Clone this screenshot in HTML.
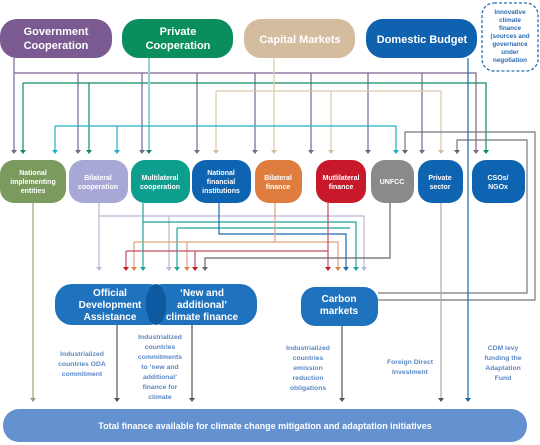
<!DOCTYPE html>
<html><head><meta charset="utf-8"><style>
html,body{margin:0;padding:0;background:#fff;}
svg{display:block;font-family:"Liberation Sans",sans-serif;font-weight:bold;}
</style></head><body>
<svg width="540" height="445" viewBox="0 0 540 445" xmlns="http://www.w3.org/2000/svg">
<g fill="none" stroke-width="1.2">
<g stroke="#7a6590">
<path d="M14,58 V150"/><path d="M14,73 H476 V150"/>
<path d="M78,73 V150"/><path d="M142,73 V150"/><path d="M197,73 V150"/><path d="M255,73 V150"/><path d="M311,73 V150"/><path d="M368,73 V150"/><path d="M422,73 V150"/>
</g>
<g stroke="#128a5e"><path d="M23,83 H486 V150"/><path d="M23,83 V150"/><path d="M89,83 V150"/></g>
<g stroke="#8fd3d8" stroke-width="2"><path d="M149,58 V150"/></g>
<g stroke="#d9c7ad"><path d="M274,58 V150"/><path d="M216,91 H441 V150"/><path d="M216,91 V150"/><path d="M331,91 V150"/></g>
<g stroke="#22aecb"><path d="M55,126 H396 V150"/><path d="M55,126 V150"/><path d="M117,126 V150"/></g>
<g stroke="#777"><path d="M405,150 V132 H535 V300 H378"/><path d="M457,150 V140 H527 V293 H378"/></g>
<g stroke="#1a6aa8"><path d="M468,58 V398"/></g>
<g stroke="#b7b7d3"><path d="M99,203 V267"/><path d="M99,216 H364 V267"/><path d="M169,216 V267"/></g>
<g stroke="#1aa598"><path d="M143,203 V267"/><path d="M143,222 H356 V267"/><path d="M177,228 H350"/><path d="M177,228 V267"/></g>
<g stroke="#1c6ab0"><path d="M219,203 V234 H346 V267"/></g>
<g stroke="#e0a27c"><path d="M275,203 V242"/><path d="M134,242 H338 V267"/><path d="M134,242 V267"/><path d="M187,242 V267"/></g>
<g stroke="#c05060"><path d="M328,203 V267"/><path d="M126,251 H328"/><path d="M126,251 V267"/><path d="M195,251 V267"/></g>
<g stroke="#666"><path d="M390,203 V258 H205 V267"/></g>
<path d="M33,203 V398" stroke="#8fa47a"/>
<path d="M117,325 V398" stroke="#555"/><path d="M192,325 V398" stroke="#555"/>
<path d="M342,326 V398" stroke="#555"/>
<path d="M441,203 V398" stroke="#aaa"/>
</g>
<g>
<g fill="#7a6590"><path d="M11,150h6l-3,4z"/><path d="M75,150h6l-3,4z"/><path d="M139,150h6l-3,4z"/><path d="M194,150h6l-3,4z"/><path d="M252,150h6l-3,4z"/><path d="M308,150h6l-3,4z"/><path d="M365,150h6l-3,4z"/><path d="M419,150h6l-3,4z"/><path d="M473,150h6l-3,4z"/></g>
<g fill="#128a5e"><path d="M20,150h6l-3,4z"/><path d="M86,150h6l-3,4z"/><path d="M146,150h6l-3,4z"/><path d="M483,150h6l-3,4z"/></g>
<g fill="#d0bda0"><path d="M213,150h6l-3,4z"/><path d="M271,150h6l-3,4z"/><path d="M328,150h6l-3,4z"/><path d="M438,150h6l-3,4z"/></g>
<g fill="#22aecb"><path d="M52,150h6l-3,4z"/><path d="M114,150h6l-3,4z"/><path d="M393,150h6l-3,4z"/></g>
<g fill="#666"><path d="M402,150h6l-3,4z"/><path d="M454,150h6l-3,4z"/></g>
<path d="M96,267h6l-3,4z" fill="#b7b7d3"/><path d="M166,267h6l-3,4z" fill="#b7b7d3"/><path d="M361,267h6l-3,4z" fill="#b7b7d3"/>
<path d="M140,267h6l-3,4z" fill="#1aa598"/><path d="M174,267h6l-3,4z" fill="#1aa598"/><path d="M353,267h6l-3,4z" fill="#1aa598"/>
<path d="M343,267h6l-3,4z" fill="#1c6ab0"/>
<path d="M131,267h6l-3,4z" fill="#e0864a"/><path d="M184,267h6l-3,4z" fill="#e0864a"/><path d="M335,267h6l-3,4z" fill="#e0864a"/>
<path d="M123,267h6l-3,4z" fill="#c01a2a"/><path d="M192,267h6l-3,4z" fill="#c01a2a"/><path d="M325,267h6l-3,4z" fill="#c01a2a"/>
<path d="M202,267h6l-3,4z" fill="#666"/>
<path d="M30,398h6l-3,4z" fill="#8fa47a"/><path d="M114,398h6l-3,4z" fill="#555"/><path d="M189,398h6l-3,4z" fill="#555"/><path d="M339,398h6l-3,4z" fill="#555"/><path d="M438,398h6l-3,4z" fill="#555"/><path d="M465,398h6l-3,4z" fill="#1a6aa8"/>
</g>
<rect x="0" y="19" width="112" height="39" rx="17" fill="#7a5a90"/>
<rect x="122" y="19" width="111" height="39" rx="17" fill="#0b8e5e"/>
<rect x="244" y="19" width="111" height="39" rx="17" fill="#d4bd9e"/>
<rect x="366" y="19" width="111" height="39" rx="17" fill="#0f62b0"/>
<rect x="482" y="3" width="56" height="68" rx="12" fill="none" stroke="#2a6cb0" stroke-dasharray="3,2" stroke-width="1.3"/>
<g fill="#fff" font-size="11" text-anchor="middle">
<text x="56" y="35">Government</text><text x="56" y="49">Cooperation</text>
<text x="178" y="35">Private</text><text x="178" y="49">Cooperation</text>
<text x="300" y="43">Capital Markets</text>
<text x="422" y="43">Domestic Budget</text>
</g>
<g fill="#2a6cb0" font-size="6.3" text-anchor="middle">
<text x="510" y="14">Innovative</text><text x="510" y="22">climate</text><text x="510" y="30">finance</text><text x="510" y="38">(sources and</text><text x="510" y="46">governance</text><text x="510" y="54">under</text><text x="510" y="62">negotiation</text>
</g>
<rect x="0" y="160" width="66" height="43" rx="14" fill="#7a9a5e"/>
<rect x="69" y="160" width="59" height="43" rx="14" fill="#a8a8d6"/>
<rect x="131" y="160" width="59" height="43" rx="14" fill="#0e9e8e"/>
<rect x="192" y="160" width="59" height="43" rx="14" fill="#0e64b0"/>
<rect x="255" y="160" width="47" height="43" rx="14" fill="#de7d3e"/>
<rect x="316" y="160" width="50" height="43" rx="14" fill="#c8192a"/>
<rect x="371" y="160" width="43" height="43" rx="14" fill="#8a8a8c"/>
<rect x="418" y="160" width="45" height="43" rx="14" fill="#0e64b0"/>
<rect x="472" y="160" width="53" height="43" rx="14" fill="#0e64b0"/>
<g fill="#fff" font-size="7" text-anchor="middle">
<text x="33" y="175">National</text><text x="33" y="184">implementing</text><text x="33" y="193">entities</text>
<text x="98" y="180">Bilateral</text><text x="98" y="189">cooperation</text>
<text x="160" y="180">Multilateral</text><text x="160" y="189">cooperation</text>
<text x="221" y="175">National</text><text x="221" y="184">financial</text><text x="221" y="193">institutions</text>
<text x="278" y="180">Bilateral</text><text x="278" y="189">finance</text>
<text x="341" y="180">Mutlilateral</text><text x="341" y="189">finance</text>
<text x="392" y="184">UNFCC</text>
<text x="440" y="180">Private</text><text x="440" y="189">sector</text>
<text x="498" y="180">CSOs/</text><text x="498" y="189">NGOx</text>
</g>
<rect x="55" y="284" width="111" height="41" rx="17" fill="#1f72bd"/>
<rect x="146" y="284" width="111" height="41" rx="17" fill="#1f72bd"/>
<ellipse cx="156" cy="304.5" rx="10" ry="20.5" fill="#0d5aa0"/>
<rect x="301" y="287" width="77" height="39" rx="14" fill="#1f72bd"/>
<g fill="#fff" font-size="10" text-anchor="middle">
<text x="110" y="296">Official</text><text x="110" y="308">Development</text><text x="110" y="320">Assistance</text>
<text x="202" y="296">‘New and</text><text x="202" y="308">additional’</text><text x="202" y="320">climate finance</text>
<text x="339" y="302">Carbon</text><text x="339" y="314">markets</text>
</g>
<g fill="#5a88c4" font-size="6.8" text-anchor="middle">
<text x="82" y="356">Industrialized</text><text x="82" y="366">countries ODA</text><text x="82" y="376">commitment</text>
<text x="160" y="339">Industrialized</text><text x="160" y="349">countries</text><text x="160" y="359">commitments</text><text x="160" y="369">to ‘new and</text><text x="160" y="379">additional’</text><text x="160" y="389">finance for</text><text x="160" y="399">climate</text>
<text x="308" y="350">Industrialized</text><text x="308" y="360">countries</text><text x="308" y="370">emission</text><text x="308" y="380">reduction</text><text x="308" y="390">obligations</text>
<text x="410" y="364">Foreign Direct</text><text x="410" y="374">Investment</text>
<text x="503" y="350">CDM levy</text><text x="503" y="360">funding the</text><text x="503" y="370">Adaptation</text><text x="503" y="380">Fund</text>
</g>
<rect x="3" y="409" width="524" height="33" rx="16" fill="#6491d0"/>
<text x="265" y="429" fill="#fff" font-size="9" text-anchor="middle">Total finance available for climate change mitigation and adaptation initiatives</text>
</svg>
</body></html>
